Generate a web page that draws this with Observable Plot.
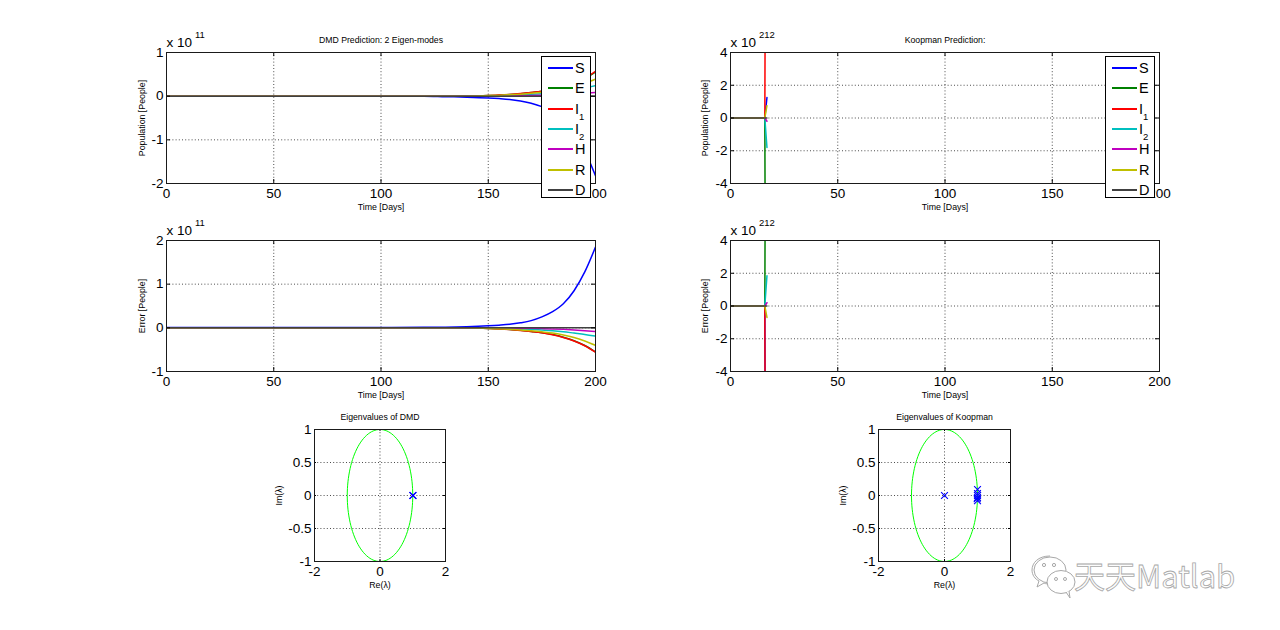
<!DOCTYPE html>
<html><head><meta charset="utf-8">
<script src="https://cdn.jsdelivr.net/npm/d3@7"></script>
<script src="https://cdn.jsdelivr.net/npm/@observablehq/plot@0.6"></script>
<style>
body{margin:0;background:#fff;}
#root{position:relative;width:1280px;height:630px;overflow:hidden;background:#fff;font-family:"Liberation Sans",Arial,Helvetica,sans-serif;}
.panel{position:absolute;}
.legend{position:absolute;background:#fff;border:1px solid #000;box-sizing:border-box;}
.legend .row{position:absolute;left:0;height:20px;width:100%;}
.legend .sw{position:absolute;left:6px;width:25px;height:2px;top:9px;}
.legend .lb{position:absolute;left:33px;top:1px;font-size:14.5px;line-height:18px;color:#000;}
.legend .lb span{font-size:9.5px;position:relative;top:6px;}
.wm{position:absolute;left:1074px;top:552px;font-family:"Noto Sans CJK SC","Liberation Sans",sans-serif;font-size:31px;color:#fcfcfc;-webkit-text-stroke:0.8px #a8a8a8;letter-spacing:0px;}
</style></head>
<body><div id="root"></div>
<script>
// ---------- data ----------
const seriesNames = ["S", "E", "I1", "I2", "H", "R", "D"];
const seriesColors = ["#0000ff", "#008000", "#ff0000", "#00bfbf", "#bf00bf", "#bfbf00", "#404040"];
const legendLabels = ["S", "E", "I<span>1</span>", "I<span>2</span>", "H", "R", "D"];

// DMD prediction / error (units of 1e11 people)
const dmdDays = [0, 20, 40, 60, 80, 100, 120, 130, 140, 150, 155, 160, 165, 170, 175, 180, 185, 190, 195, 200];
const dmdPredS  = [0, 0, 0, 0, 0, 0, 0, -0.012, -0.022, -0.04, -0.055, -0.075, -0.11, -0.16, -0.24, -0.36, -0.54, -0.84, -1.26, -1.82];
const dmdPredE  = [0, 0, 0, 0, 0, 0, 0, 0, 0, 0.014, 0.023, 0.038, 0.057, 0.082, 0.11, 0.155, 0.215, 0.295, 0.405, 0.55];
const dmdPredI1 = [0, 0, 0, 0, 0, 0, 0, 0, 0, 0.015, 0.025, 0.04, 0.06, 0.085, 0.115, 0.16, 0.22, 0.3, 0.41, 0.57];
const dmdPredI2 = [0, 0, 0, 0, 0, 0, 0, 0, 0, 0.007, 0.012, 0.019, 0.029, 0.042, 0.058, 0.08, 0.108, 0.145, 0.19, 0.24];
const dmdPredH  = [0, 0, 0, 0, 0, 0, 0, 0, 0, 0.002, 0.004, 0.006, 0.009, 0.013, 0.019, 0.026, 0.036, 0.048, 0.065, 0.085];
const dmdPredR  = [0, 0, 0, 0, 0, 0, 0, 0, 0, 0.011, 0.018, 0.03, 0.045, 0.064, 0.088, 0.118, 0.162, 0.218, 0.296, 0.39];
const dmdPredD  = [0, 0, 0, 0, 0, 0, 0, 0, 0, 0, 0, 0, 0, 0, 0, 0, 0, 0, 0, 0];

const dmdErrS  = [0.01, 0.01, 0.01, 0.01, 0.01, 0.01, 0.012, 0.015, 0.025, 0.045, 0.06, 0.08, 0.115, 0.165, 0.25, 0.37, 0.55, 0.85, 1.28, 1.85];
const dmdErrE  = [0, 0, 0, 0, 0, 0, 0, 0, 0, -0.014, -0.023, -0.038, -0.057, -0.082, -0.11, -0.155, -0.215, -0.295, -0.405, -0.55];
const dmdErrI1 = [0, 0, 0, 0, 0, 0, 0, 0, 0, -0.015, -0.025, -0.04, -0.06, -0.085, -0.115, -0.16, -0.22, -0.3, -0.41, -0.56];
const dmdErrI2 = [0, 0, 0, 0, 0, 0, 0, 0, 0, -0.006, -0.01, -0.016, -0.024, -0.034, -0.048, -0.066, -0.09, -0.12, -0.15, -0.19];
const dmdErrH  = [0, 0, 0, 0, 0, 0, 0, 0, 0, 0, -0.002, -0.005, -0.008, -0.012, -0.018, -0.025, -0.035, -0.048, -0.065, -0.085];
const dmdErrR  = [0, 0, 0, 0, 0, 0, 0, 0, 0, -0.012, -0.02, -0.032, -0.047, -0.066, -0.09, -0.12, -0.165, -0.22, -0.3, -0.4];
const dmdErrD  = [0, 0, 0, 0, 0, 0, 0, 0, 0, 0, 0, 0, 0, 0, 0, 0, 0, 0, 0, 0];

// Koopman prediction / error (units of 1e212 people): blow-up at day 17
const koopDays = [0, 4, 8, 12, 16, 17];
const koopPredS  = [0, 0, 0, 0, 0, 1.25];
const koopPredE  = [0, 0, 0, 0, 0, -40];
const koopPredI1 = [0, 0, 0, 0, 0, 40];
const koopPredI2 = [0, 0, 0, 0, 0, -1.8];
const koopPredH  = [0, 0, 0, 0, 0, -0.2];
const koopPredR  = [0, 0, 0, 0, 0, 0.75];
const koopPredD  = [0, 0, 0, 0, 0, 0];

const koopErrS  = [0, 0, 0, 0, 0, -40];
const koopErrE  = [0, 0, 0, 0, 0, 40];
const koopErrI1 = [0, 0, 0, 0, 0, -40];
const koopErrI2 = [0, 0, 0, 0, 0, 1.85];
const koopErrH  = [0, 0, 0, 0, 0, 0.2];
const koopErrR  = [0, 0, 0, 0, 0, -0.7];
const koopErrD  = [0, 0, 0, 0, 0, 0];

// Eigenvalues
const dmdEigRe = [1.0, 1.01];
const dmdEigIm = [0, 0];
const koopEigRe = [0, 1, 1, 1, 1, 1, 0.99];
const koopEigIm = [0, 0.09, 0.03, 0, -0.03, -0.08, -0.05];

// Ticks
const dayTicks = [0, 50, 100, 150, 200];
const dmdPredTicks = [-2, -1, 0, 1];
const dmdErrTicks = [-1, 0, 1, 2];
const koopTicks = [-4, -2, 0, 2, 4];
const eigReTicks = [-2, 0, 2];
const eigImTicks = [-1, -0.5, 0, 0.5, 1];

// ---------- helpers ----------
function toRows(days, arrays) {
  return arrays.flatMap((arr, i) => arr.map((v, j) => ({day: days[j], value: v, series: seriesNames[i]})));
}
const root = document.getElementById("root");
const FONT = "'Liberation Sans', Arial, Helvetica, sans-serif";

function panel({frame, xDomain, yDomain, xTicks, yTicks, tickLen, marks, title, xLabel, yLabel, yLabelDx, exponent}) {
  const [x0, y0, x1, y1] = frame;
  const M = {top: 42, right: 30, bottom: 45, left: 50};
  const fw = x1 - x0, fh = y1 - y0;
  const fmt = d => String(d);
  const extra = [];
  if (title) extra.push(Plot.text([title], {frameAnchor: "top", textAnchor: "middle", lineAnchor: "middle", dy: -12.5, fontSize: 8.7, fill: "#000"}));
  if (exponent) {
    extra.push(Plot.text(["x 10"], {frameAnchor: "top-left", textAnchor: "start", lineAnchor: "middle", dy: -10, fontSize: 13.5, fill: "#000"}));
    extra.push(Plot.text([exponent], {frameAnchor: "top-left", textAnchor: "start", lineAnchor: "middle", dx: 28.5, dy: -18, fontSize: 9.5, fill: "#000"}));
  }
  const svg = Plot.plot({
    width: fw + M.left + M.right,
    height: fh + M.top + M.bottom,
    marginTop: M.top, marginRight: M.right, marginBottom: M.bottom, marginLeft: M.left,
    x: {domain: xDomain, axis: null},
    y: {domain: yDomain, axis: null},
    style: {background: "transparent", fontFamily: FONT, overflow: "visible"},
    marks: [
      Plot.ruleX(xTicks, {x: d => d, stroke: "#000", strokeOpacity: 0.7, strokeDasharray: "1,2.2"}),
      Plot.ruleY(yTicks, {y: d => d, stroke: "#000", strokeOpacity: 0.7, strokeDasharray: "1,2.2"}),
      ...marks,
      Plot.ruleX(xTicks, {x: d => d, insetTop: fh - tickLen, stroke: "#000"}),
      Plot.ruleX(xTicks, {x: d => d, insetBottom: fh - tickLen, stroke: "#000"}),
      Plot.ruleY(yTicks, {y: d => d, insetRight: fw - tickLen, stroke: "#000"}),
      Plot.ruleY(yTicks, {y: d => d, insetLeft: fw - tickLen, stroke: "#000"}),
      Plot.frame({stroke: "#1a1a1a"}),
      Plot.text(xTicks, {x: d => d, frameAnchor: "bottom", textAnchor: "middle", lineAnchor: "middle", dy: 10, text: fmt, fontSize: 13.5, fill: "#000"}),
      Plot.text(yTicks, {y: d => d, frameAnchor: "left", dx: -3, textAnchor: "end", lineAnchor: "middle", text: fmt, fontSize: 13.5, fill: "#000"}),
      Plot.text([xLabel], {frameAnchor: "bottom", textAnchor: "middle", lineAnchor: "middle", dy: 24, fontSize: 8.8, fill: "#000"}),
      Plot.text([yLabel], {frameAnchor: "left", textAnchor: "middle", lineAnchor: "middle", dx: yLabelDx, rotate: -90, fontSize: 8.8, fill: "#000"}),
      ...extra
    ]
  });
  svg.classList.add("panel");
  svg.style.left = (x0 - M.left) + "px";
  svg.style.top = (y0 - M.top) + "px";
  root.appendChild(svg);
}

function seriesLines(rows, curve) {
  return seriesNames.map((s, i) => Plot.line(rows.filter(r => r.series === s), {
    x: "day", y: "value", stroke: seriesColors[i], strokeWidth: 1.5, clip: true, curve
  }));
}

function legend(frame) {
  const [x0, y0, x1, y1] = frame;
  const div = document.createElement("div");
  div.className = "legend";
  div.style.left = (x1 - 4 - 50) + "px";
  div.style.top = (y0 + 4) + "px";
  div.style.width = "50px";
  div.style.height = "142px";
  seriesNames.forEach((s, i) => {
    const row = document.createElement("div");
    row.className = "row";
    row.style.top = (1 + i * 20.3) + "px";
    row.innerHTML = `<div class="sw" style="background:${seriesColors[i]}"></div><div class="lb">${legendLabels[i]}</div>`;
    div.appendChild(row);
  });
  root.appendChild(div);
}

// ---------- panels ----------
const F1 = [166, 52, 595, 183], F2 = [166, 240, 595, 371];
const F3 = [730, 52, 1159, 183], F4 = [730, 240, 1159, 371];
const F5 = [314, 429, 445, 561], F6 = [878, 429, 1010, 561];

panel({frame: F1, xDomain: [0, 200], yDomain: [-2, 1], xTicks: dayTicks, yTicks: dmdPredTicks, tickLen: 4,
  marks: seriesLines(toRows(dmdDays, [dmdPredS, dmdPredE, dmdPredI1, dmdPredI2, dmdPredH, dmdPredR, dmdPredD]), "monotone-x"),
  title: "DMD Prediction: 2 Eigen-modes", xLabel: "Time [Days]", yLabel: "Population [People]", yLabelDx: -24, exponent: "11"});
panel({frame: F2, xDomain: [0, 200], yDomain: [-1, 2], xTicks: dayTicks, yTicks: dmdErrTicks, tickLen: 4,
  marks: seriesLines(toRows(dmdDays, [dmdErrS, dmdErrE, dmdErrI1, dmdErrI2, dmdErrH, dmdErrR, dmdErrD]), "monotone-x"),
  xLabel: "Time [Days]", yLabel: "Error [People]", yLabelDx: -24, exponent: "11"});
panel({frame: F3, xDomain: [0, 200], yDomain: [-4, 4], xTicks: dayTicks, yTicks: koopTicks, tickLen: 4,
  marks: seriesLines(toRows(koopDays, [koopPredS, koopPredE, koopPredI1, koopPredI2, koopPredH, koopPredR, koopPredD]), "linear"),
  title: "Koopman Prediction:", xLabel: "Time [Days]", yLabel: "Population [People]", yLabelDx: -25, exponent: "212"});
panel({frame: F4, xDomain: [0, 200], yDomain: [-4, 4], xTicks: dayTicks, yTicks: koopTicks, tickLen: 4,
  marks: seriesLines(toRows(koopDays, [koopErrS, koopErrE, koopErrI1, koopErrI2, koopErrH, koopErrR, koopErrD]), "linear"),
  xLabel: "Time [Days]", yLabel: "Error [People]", yLabelDx: -25, exponent: "212"});

// unit circle reference geometry
const unitCircle = d3.range(0, 361, 3).map(a => ({re: Math.cos(a * Math.PI / 180), im: Math.sin(a * Math.PI / 180)}));
function eigMarks(re, im) {
  const pts = re.map((r, i) => ({re: r, im: im[i]}));
  return [
    Plot.line(unitCircle, {x: "re", y: "im", stroke: "#00ff00", strokeWidth: 1}),
    Plot.dot(pts, {x: "re", y: "im", symbol: "times", r: 3.2, stroke: "#0000ff", strokeWidth: 1.1})
  ];
}
panel({frame: F5, xDomain: [-2, 2], yDomain: [-1, 1], xTicks: eigReTicks, yTicks: eigImTicks, tickLen: 2,
  marks: eigMarks(dmdEigRe, dmdEigIm), title: "Eigenvalues of DMD", xLabel: "Re(λ)", yLabel: "Im(λ)", yLabelDx: -35});
panel({frame: F6, xDomain: [-2, 2], yDomain: [-1, 1], xTicks: eigReTicks, yTicks: eigImTicks, tickLen: 2,
  marks: eigMarks(koopEigRe, koopEigIm), title: "Eigenvalues of Koopman", xLabel: "Re(λ)", yLabel: "Im(λ)", yLabelDx: -35});

legend(F1);
legend(F3);

// watermark
const logo = document.createElementNS("http://www.w3.org/2000/svg", "svg");
logo.setAttribute("width", "50"); logo.setAttribute("height", "50");
logo.style.position = "absolute"; logo.style.left = "1030px"; logo.style.top = "552px";
logo.innerHTML = `
<path d="M20 4 C8 4 2 11 2 18 C2 23 5 27 9 29 L7 35 L14 31 C16 32 18 32 20 32" fill="#fff" stroke="#a8a8a8" stroke-width="1"/>
<ellipse cx="20" cy="18" rx="16" ry="13" fill="#fff" stroke="#a8a8a8" stroke-width="1"/>
<circle cx="14" cy="13" r="1.6" fill="none" stroke="#a8a8a8"/><circle cx="24" cy="13" r="1.6" fill="none" stroke="#a8a8a8"/>
<ellipse cx="31" cy="30" rx="14" ry="11.5" fill="#fff" stroke="#a8a8a8" stroke-width="1"/>
<path d="M36 40 L40 46 L39 39" fill="#fff" stroke="#a8a8a8" stroke-width="1"/>
<circle cx="26" cy="27" r="1.5" fill="none" stroke="#a8a8a8"/><circle cx="35" cy="27" r="1.5" fill="none" stroke="#a8a8a8"/>`;
root.appendChild(logo);
const wm = document.createElement("div");
wm.className = "wm";
wm.textContent = "天天Matlab";
root.appendChild(wm);
</script>
</body></html>
